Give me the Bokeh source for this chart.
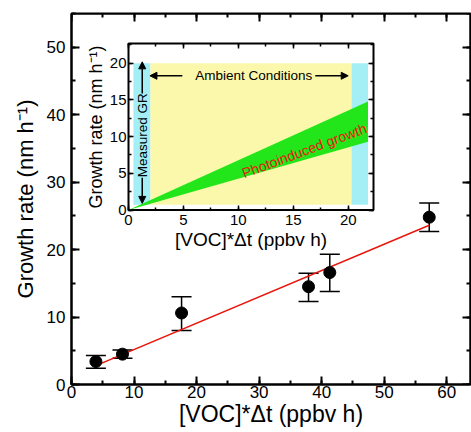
import math
from bokeh.plotting import figure
from bokeh.models import (ColumnDataSource, Range1d, LinearAxis, SingleIntervalTicker,
                          Whisker, TeeHead, Arrow, NormalHead)
from bokeh.embed import file_html
from bokeh.resources import INLINE
from bokeh.core.properties import value

# ---------------- main panel data ----------------
voc_dt = [3.9, 8.15, 17.6, 37.9, 41.3, 57.2]          # [VOC]*dt (ppbv h)
growth = [3.4, 4.5, 10.6, 14.5, 16.6, 24.8]           # growth rate (nm/h)
err_low = [2.4, 3.9, 8.0, 12.3, 13.8, 22.7]
err_high = [4.3, 5.1, 13.0, 16.5, 19.3, 26.9]
fit_x = [3.9, 57.2]
fit_y = [2.8, 23.6]

# ---------------- inset data ----------------
band_left = [0.45, 2.0, 20.3]
band_right = [2.0, 20.3, 21.8]
band_bottom = [0.7, 0.7, 0.7]
band_top = [20.0, 20.0, 20.0]
band_colors = ["#a4eff6", "#fbf8ab", "#a4eff6"]
wedge_x = [0.0, 21.8]
wedge_low = [0.0, 9.3]
wedge_high = [0.0, 14.8]
inset_xmax = 22.3
inset_ymax = 22.7

FONT = "Liberation Sans"

# main frame pixel geometry
W, H = 471, 432
FL, FR, FT, FB = 71, 470, 13, 384
XMAX, YMAX = 63.8, 55

p = figure(width=W, height=H, output_backend="svg", toolbar_location=None,
           x_range=Range1d(0, XMAX), y_range=Range1d(0, YMAX),
           min_border_left=FL, min_border_right=W - FR,
           min_border_top=FT, min_border_bottom=H - FB)
p.grid.visible = False
p.outline_line_color = "black"
p.outline_line_width = 2
p.background_fill_color = "white"
p.border_fill_color = "white"


def style_axis(ax, interval, tin, tmin, font_px, lab_px, lw=2):
    ax.ticker = SingleIntervalTicker(interval=interval, num_minor_ticks=2)
    ax.major_tick_in = tin
    ax.major_tick_out = 0
    ax.minor_tick_in = tmin
    ax.minor_tick_out = 0
    ax.axis_line_width = lw
    ax.major_tick_line_width = lw
    ax.minor_tick_line_width = lw
    ax.axis_line_color = "black"
    ax.major_tick_line_color = "black"
    ax.minor_tick_line_color = "black"
    ax.major_label_text_font = FONT
    ax.major_label_text_font_size = font_px
    ax.major_label_text_color = "black"
    ax.axis_label_text_font = FONT
    ax.axis_label_text_font_size = lab_px
    ax.axis_label_text_font_style = "normal"
    ax.axis_label_text_color = "black"


xa = p.xaxis[0]
ya = p.yaxis[0]
style_axis(xa, 10, 8, 4, "17px", "23px")
style_axis(ya, 10, 8, 4, "17px", "22px")
xa.axis_label = "[VOC]*\u0394t (ppbv h)"
ya.axis_label = "Growth rate (nm h\u207b\u00b9)"
xa.major_label_standoff = 1
xa.axis_label_standoff = 0
ya.major_label_standoff = 6
ya.axis_label_standoff = 6

top_ax = LinearAxis(fixed_location=YMAX)
style_axis(top_ax, 10, 8, 4, "17px", "21px")
top_ax.major_label_text_color = None
p.add_layout(top_ax, "above")
right_ax = LinearAxis(fixed_location=XMAX)
style_axis(right_ax, 10, 8, 4, "17px", "21px")
right_ax.major_label_text_color = None
p.add_layout(right_ax, "right")

# main data marks
p.line(fit_x, fit_y, line_color="#e8160c", line_width=1.6)
src = ColumnDataSource(dict(x=voc_dt, y=growth, lo=err_low, hi=err_high))
wh = Whisker(source=src, base="x", lower="lo", upper="hi", line_color="black", line_width=1.5,
             upper_head=TeeHead(size=20, line_color="black", line_width=1.5),
             lower_head=TeeHead(size=20, line_color="black", line_width=1.5))
p.add_layout(wh)
p.scatter("x", "y", source=src, size=12, color="black")

# ---------------- inset (drawn in its own ranges) ----------------
IL, IR, IT, IB = 128, 373, 43, 209.5
sx = (IR - IL) / inset_xmax
sy = (IB - IT) / inset_ymax
p.extra_x_ranges = {"ix": Range1d(-(IL - FL) / sx, inset_xmax + (FR - IR) / sx)}
p.extra_y_ranges = {"iy": Range1d(-(FB - IB) / sy, inset_ymax + (IT - FT) / sy)}
R = dict(x_range_name="ix", y_range_name="iy")

p.quad(left=[0], right=[inset_xmax], bottom=[0], top=[inset_ymax],
       fill_color="white", line_color="black", line_width=2, **R)
p.quad(left=band_left, right=band_right, bottom=band_bottom, top=band_top,
       fill_color=band_colors, line_color=None, **R)
p.varea(x=wedge_x, y1=wedge_low, y2=wedge_high, fill_color="#22e61a", **R)

p.text(x=[11.4], y=[18.3], text=["Ambient Conditions"], text_font=value(FONT),
       text_font_size="13.5px", text_color="black", text_align="center",
       text_baseline="middle", **R)
p.text(x=[1.25], y=[10.2], text=["Measured GR"], angle=math.pi / 2, text_font=value(FONT),
       text_font_size="13.5px", text_color="black", text_align="center",
       text_baseline="middle", **R)
p.text(x=[16.0], y=[8.1], text=["Photoinduced growth"], angle=0.355, text_font=value(FONT),
       text_font_size="14px", text_color="#e8160c", text_align="center",
       text_baseline="middle", **R)

for xs, ys, xe, ye in [(4.9, 18.3, 1.95, 18.3), (17.0, 18.3, 20.0, 18.3),
                       (1.25, 15.9, 1.25, 20.2), (1.25, 4.4, 1.25, 0.9)]:
    p.add_layout(Arrow(x_start=xs, y_start=ys, x_end=xe, y_end=ye, line_width=1.5,
                       line_color="black",
                       end=NormalHead(size=7, fill_color="black", line_color="black"), **R))

ib = LinearAxis(fixed_location=0, bounds=(0, inset_xmax), **R)
style_axis(ib, 5, 5, 3, "15px", "19px", lw=1.5)
ib.axis_label = "[VOC]*\u0394t (ppbv h)"
ib.major_label_standoff = 5
ib.axis_label_standoff = 0
ib.axis_line_color = None
p.add_layout(ib, "below")

il = LinearAxis(fixed_location=0, bounds=(0, inset_ymax), **R)
style_axis(il, 5, 5, 3, "15px", "18px", lw=1.5)
il.axis_label = "Growth rate (nm h\u207b\u00b9)"
il.major_label_standoff = 2
il.axis_label_standoff = 1
il.axis_line_color = None
p.add_layout(il, "left")

it = LinearAxis(fixed_location=inset_ymax, bounds=(0, inset_xmax), **R)
style_axis(it, 5, 5, 3, "15px", "17px", lw=1.5)
it.major_label_text_color = None
it.axis_line_color = None
p.add_layout(it, "above")

ir = LinearAxis(fixed_location=inset_xmax, bounds=(0, inset_ymax), **R)
style_axis(ir, 5, 5, 3, "15px", "17px", lw=1.5)
ir.major_label_text_color = None
ir.axis_line_color = None
p.add_layout(ir, "right")

open("out.html", "w").write(file_html(p, INLINE))
